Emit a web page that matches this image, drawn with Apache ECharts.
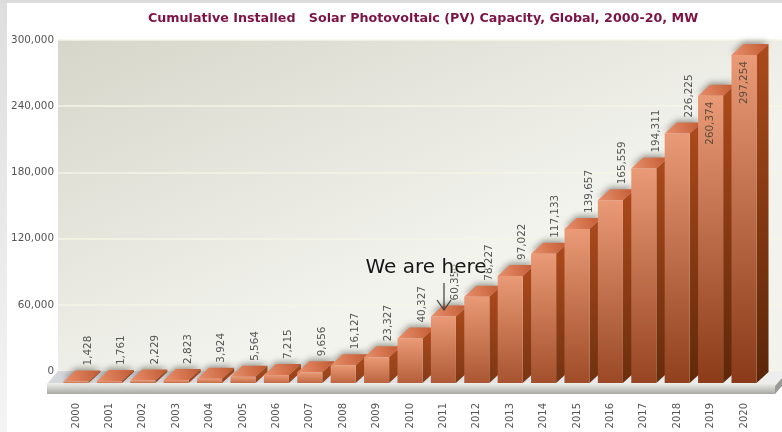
<!DOCTYPE html>
<html><head><meta charset="utf-8">
<style>html,body{margin:0;padding:0;background:#fff}#c{width:782px;height:432px}</style>
<script src="https://cdn.jsdelivr.net/npm/echarts@6/dist/echarts.min.js"></script>
</head><body><div id="c"></div>
<script>
const chartTitle = 'Cumulative Installed   Solar Photovoltaic (PV) Capacity, Global, 2000-20, MW';
const years = ['2000','2001','2002','2003','2004','2005','2006','2007','2008','2009','2010','2011','2012','2013','2014','2015','2016','2017','2018','2019','2020'];
const capacity = [1428,1761,2229,2823,3924,5564,7215,9656,16127,23327,40327,60350,78227,97022,117133,139657,165559,194311,226225,260374,297254];
const labelsInsideBar = ['2019','2020'];
const annotation = 'We are here';

const FONT = '"DejaVu Sans", sans-serif';
const DX = 12, DY = 11;
const lerp = (a, b, t) => echarts.color.lerp(t, [a, b]);
const grad = (x, y, x2, y2, c0, c1) => new echarts.graphic.LinearGradient(x, y, x2, y2, [{offset:0,color:c0},{offset:1,color:c1}]);

function renderBar(params, api) {
  const i = api.value(0), v = api.value(1);
  const top = api.coord([i, v]), base = api.coord([i, 0]);
  const w = api.size([1, 0])[0] * 0.75;
  const l = top[0] - w / 2, r = top[0] + w / 2, t = top[1], b = base[1];
  const k = Math.min(1, (b - t) / 300);
  const frontBottom = lerp('#c9704a', '#8a3a18', Math.pow(k, 0.6));
  const sideBottom = lerp('#98461f', '#5a2608', Math.pow(k, 0.6));
  const inside = labelsInsideBar.includes(years[i]);
  const label = v.toLocaleString('en-US');
  return { type:'group', children:[
    { type:'polygon', shape:{points:[[l,t],[r,t],[r+DX,t-DY],[l+DX,t-DY]]},
      style:{fill:grad(0,1,1,0,'#e8906c','#c25a32'), shadowBlur:6, shadowColor:'rgba(70,70,60,0.55)', shadowOffsetY:-2} },
    { type:'polygon', shape:{points:[[r,t],[r+DX,t-DY],[r+DX,b-DY],[r,b]]},
      style:{fill:grad(0,0,0,1,'#ad4a1b',sideBottom)} },
    { type:'rect', shape:{x:l,y:t,width:w,height:b-t},
      style:{fill:grad(0,0,0,1,'#ea9a76',frontBottom)} },
    { type:'text', x: inside ? top[0] : top[0] + 12, y: inside ? t + 49 : t - 16, rotation: Math.PI/2,
      style:{text:label, align:'left', verticalAlign:'middle', font:'10.4px '+FONT, fill: inside ? '#5e4c3c' : '#555555'} }
  ]};
}

const chart = echarts.init(document.getElementById('c'), null, {renderer:'canvas'});
chart.setOption({
  animation:false,
  backgroundColor:'#ffffff',
  title:{text:chartTitle, left:148, top:12, padding:0,
    textStyle:{fontFamily:FONT, fontSize:12.7, fontWeight:'bold', color:'#7d1245', lineHeight:13}},
  grid:[
    {left:58, right:0, top:40, bottom:61, show:true, borderWidth:0,
     backgroundColor:grad(0,0,0.2,1,'#d6d6ca','#f3f3ee')},
    {left:59.3, width:701.4, top:52, bottom:49, show:false}
  ],
  xAxis:[
    {gridIndex:0, type:'category', data:years, show:false},
    {gridIndex:1, type:'category', data:years, axisLine:{show:false}, axisTick:{show:false},
     axisLabel:{rotate:90, margin:20, interval:0, fontFamily:FONT, fontSize:10, color:'#555555'}}
  ],
  yAxis:[
    {gridIndex:0, type:'value', min:0, max:300000, interval:60000, axisLine:{show:false}, axisTick:{show:false},
     axisLabel:{margin:4, fontFamily:FONT, fontSize:10.4, color:'#555555', formatter:v=>v.toLocaleString('en-US')},
     splitLine:{show:true, lineStyle:{color:'#f5f4e6', width:1.5}}},
    {gridIndex:1, type:'value', min:0, max:300000, show:false, splitLine:{show:false}}
  ],
  series:[{type:'custom', xAxisIndex:1, yAxisIndex:1, clip:false, z:5,
    data:capacity.map((v,i)=>[i,v]), encode:{x:0,y:1}, renderItem:renderBar}],
  graphic:[
    {type:'rect', shape:{x:0,y:0,width:782,height:3}, style:{fill:'#dcdcdc'}, z:1},
    {type:'rect', shape:{x:0,y:3,width:7,height:429}, style:{fill:grad(0,0,0,1,'#dedede','#f4f4f4')}, z:1},
    {type:'polygon', shape:{points:[[58,371],[782,371],[782,378],[775,387],[47,384]]},
     style:{fill:grad(0,0,1,0,'#d4d6dc','#eeeeee')}, z:1},
    {type:'polygon', shape:{points:[[47,383],[775,383],[775,394],[47,394]]},
     style:{fill:grad(0,0,0,1,'#f0f0ec','#a9a9a4')}, z:2},
    {type:'polygon', shape:{points:[[775,394],[782,386],[782,378],[775,386]]},
     style:{fill:'#9a9a96'}, z:2},
    {type:'text', x:426, y:268, z:100,
     style:{text:annotation, align:'center', verticalAlign:'middle', font:'20px '+FONT, fill:'#161616', stroke:'rgba(245,245,240,0.85)', lineWidth:2.5}},
    {type:'polyline', shape:{points:[[444,283],[444,310]]}, style:{stroke:'#3c3c3c', lineWidth:1.2, fill:null}, z:100},
    {type:'polyline', shape:{points:[[437,300],[444,310],[451,300]]}, style:{stroke:'#3c3c3c', lineWidth:1.2, fill:null}, z:100}
  ]
});
</script></body></html>
